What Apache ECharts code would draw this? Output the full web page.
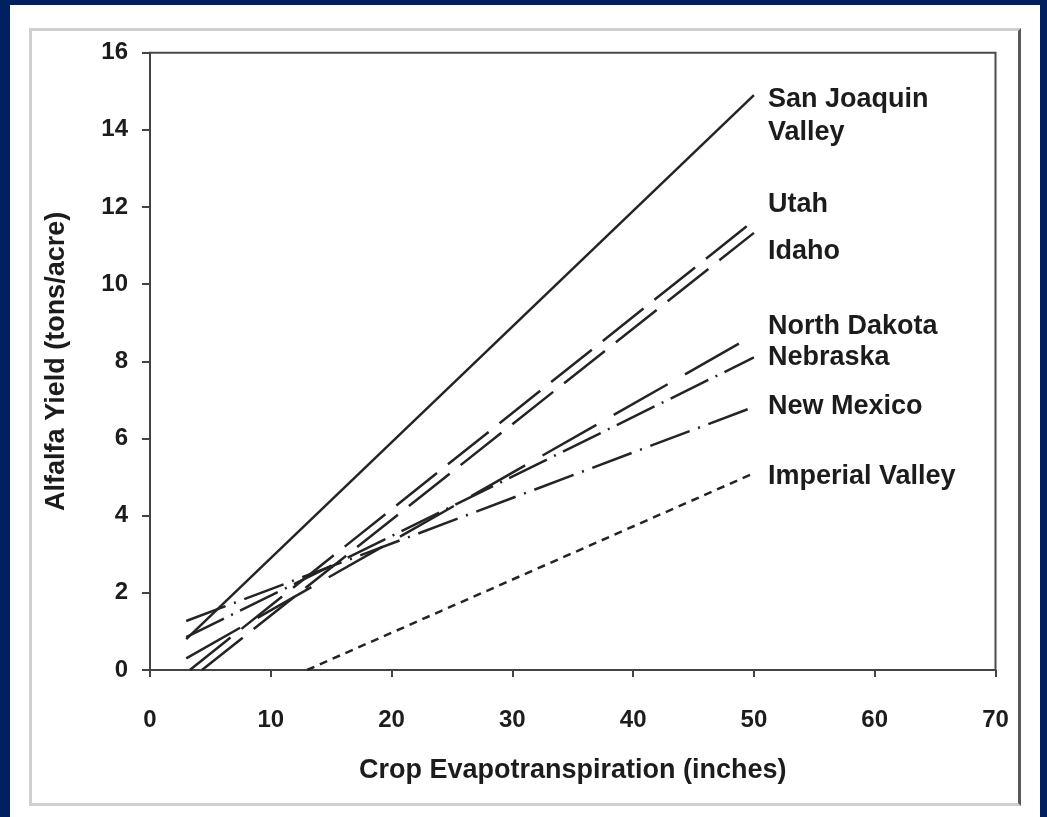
<!DOCTYPE html>
<html>
<head>
<meta charset="utf-8">
<script src="https://cdn.jsdelivr.net/npm/echarts@6/dist/echarts.min.js"></script>
<style>
  html, body { margin: 0; padding: 0; background: #002060; }
  #wrap { position: relative; width: 1047px; height: 817px; overflow: hidden; background: #002060; }
  #panel { position: absolute; left: 10px; top: 5px; width: 1030px; height: 830px; background: #ffffff; }
  #frame { position: absolute; left: 29px; top: 28px; width: 986px; height: 772px;
           border: 3px solid #cfcfcf; border-right-color: #5a5a5a; }
  #chart { position: absolute; left: 0; top: 0; width: 1047px; height: 817px; }
</style>
</head>
<body>
<div id="wrap">
  <div id="panel"></div>
  <div id="frame"></div>
  <div id="chart"></div>
</div>
<script>
// ---- data ----
const xTicks = [0, 10, 20, 30, 40, 50, 60, 70];
const yTicks = [0, 2, 4, 6, 8, 10, 12, 14, 16];
const lineNames = ['San Joaquin\nValley', 'Utah', 'Idaho', 'North Dakota', 'Nebraska', 'New Mexico', 'Imperial Valley'];
const sanJoaquin = [[3, 0.8], [50, 14.9]];
const utah = [[3.3, 0], [50, 11.65]];
const idaho = [[4.3, 0], [50, 11.33]];
const northDakota = [[3, 0.3], [50, 8.68]];
const nebraska = [[3, 0.85], [50, 8.1]];
const newMexico = [[3, 1.27], [50, 6.82]];
const imperialValley = [[13, 0], [50, 5.1]];

// ---- styles (not data) ----
const lineData = [sanJoaquin, utah, idaho, northDakota, nebraska, newMexico, imperialValley];
const dashes = ['solid', [52, 14], [52, 14], [62, 20], [42, 8, 2, 8], [42, 9, 2, 9], [8, 6]];
const labelOffsets = [[14, 21], [14, -16], [14, 19], [14, -9], [14, 0], [14, 0], [14, 3]];

const font = '"Liberation Sans", Arial, Helvetica, sans-serif';
const ink = '#1c1c1c';

const series = lineData.map((d, i) => ({
  name: lineNames[i],
  type: 'line',
  data: d,
  showSymbol: false,
  symbol: 'none',
  silent: true,
  animation: false,
  lineStyle: { color: '#242424', width: 2.5, type: dashes[i], cap: 'butt' },
  endLabel: {
    show: true,
    formatter: lineNames[i],
    distance: 0,
    offset: labelOffsets[i],
    align: 'left',
    verticalAlign: 'middle',
    color: ink,
    fontFamily: font,
    fontWeight: 'bold',
    fontSize: 27,
    lineHeight: 33
  }
}));

const chart = echarts.init(document.getElementById('chart'), null, { renderer: 'canvas' });
chart.setOption({
  backgroundColor: 'transparent',
  animation: false,
  grid: { left: 150, right: 51.5, top: 52.7, bottom: 147, show: true, borderColor: '#4a4a4a', borderWidth: 2, containLabel: false },
  xAxis: {
    type: 'value', min: xTicks[0], max: xTicks[xTicks.length - 1], interval: 10,
    name: 'Crop Evapotranspiration (inches)', nameLocation: 'middle', nameGap: 87,
    nameTextStyle: { color: ink, fontFamily: font, fontWeight: 'bold', fontSize: 27 },
    axisLine: { show: true, lineStyle: { color: '#444', width: 2 } },
    axisTick: { show: true, length: 7, inside: false, lineStyle: { color: '#444', width: 2 } },
    axisLabel: { color: ink, fontFamily: font, fontWeight: 'bold', fontSize: 24, margin: 38 },
    splitLine: { show: false }
  },
  yAxis: {
    type: 'value', min: yTicks[0], max: yTicks[yTicks.length - 1], interval: 2,
    name: 'Alfalfa Yield (tons/acre)', nameLocation: 'middle', nameGap: 80,
    nameTextStyle: { color: ink, fontFamily: font, fontWeight: 'bold', fontSize: 27 },
    axisLine: { show: true, lineStyle: { color: '#444', width: 2 } },
    axisTick: { show: true, length: 8, inside: false, lineStyle: { color: '#444', width: 2 } },
    axisLabel: { color: ink, fontFamily: font, fontWeight: 'bold', fontSize: 24, margin: 22 },
    splitLine: { show: false }
  },
  series: series
});
</script>
</body>
</html>
